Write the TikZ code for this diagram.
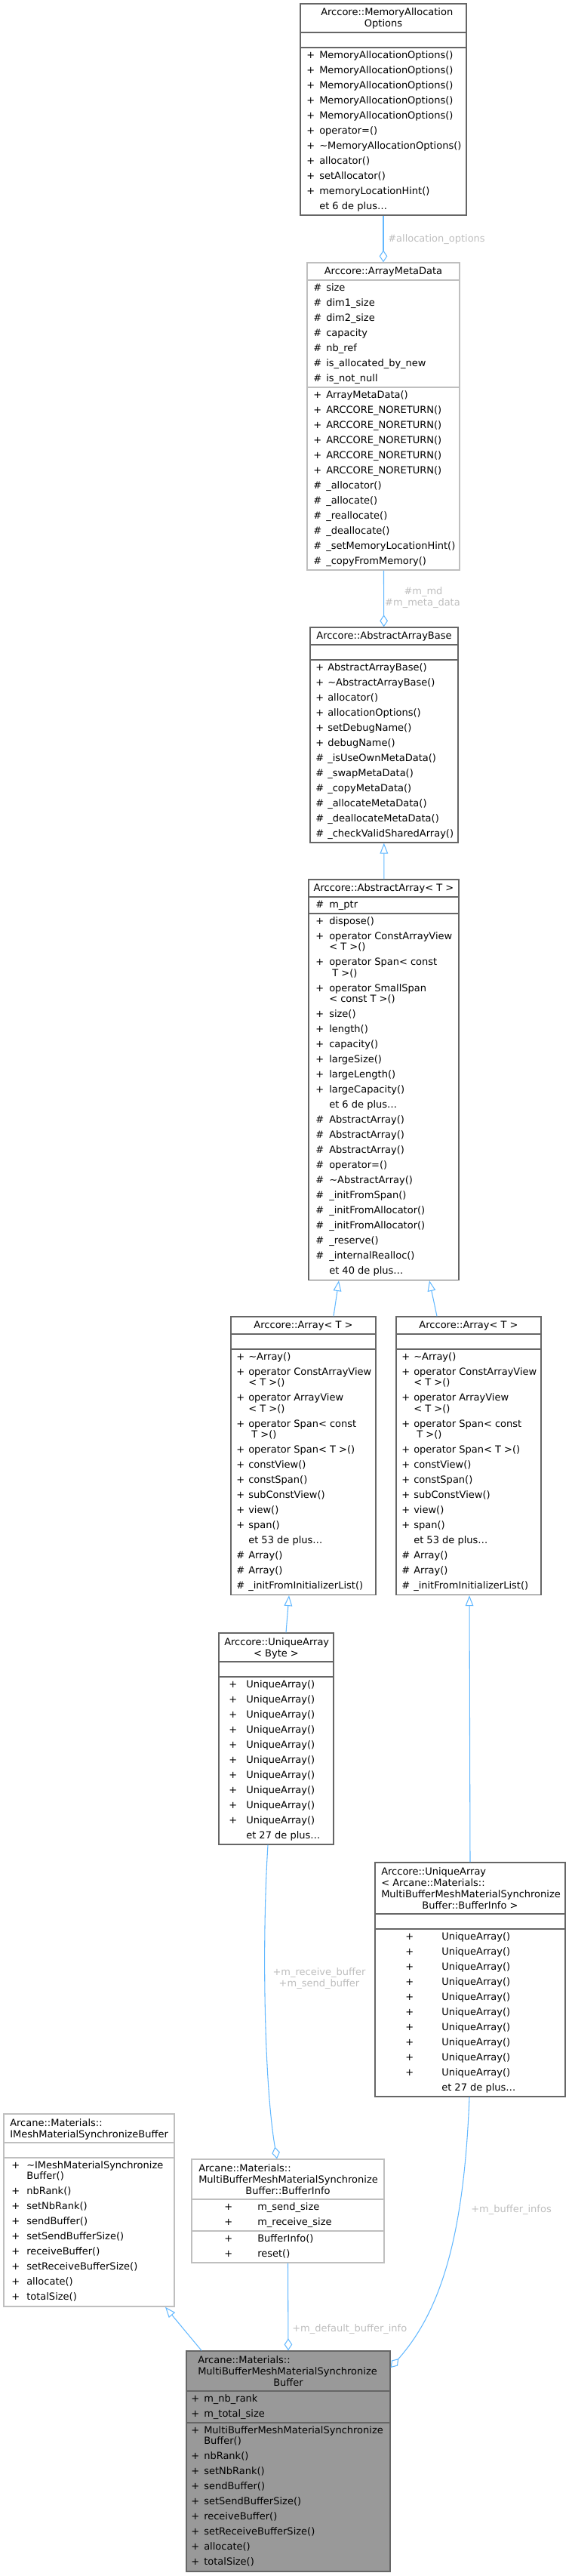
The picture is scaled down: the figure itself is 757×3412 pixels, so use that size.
\documentclass[tikz,border=0pt]{standalone}
\usepackage{fontspec}
\setmainfont{DejaVu Sans}
\usetikzlibrary{arrows.meta,calc,fit}
\definecolor{edgeblue}{HTML}{63B8FF}
\definecolor{labgrey}{HTML}{BEBEBE}
\definecolor{boxdark}{HTML}{666666}
\definecolor{boxlight}{HTML}{BFBFBF}
\definecolor{mainfill}{HTML}{999999}
\newcommand\dgfont{\fontsize{9.75}{11}\selectfont}
\tikzset{
  x=0.75pt,y=-0.75pt,
  cls/.style={draw=boxdark,line width=1pt,inner sep=0pt},
  clsl/.style={draw=boxlight,line width=1pt,inner sep=0pt},
  sepd/.style={draw=boxdark,line width=1pt},
  sepl/.style={draw=boxlight,line width=1pt},
  member/.style={anchor=base west,inner sep=0pt,font=\dgfont},
  ttlc/.style={anchor=base,inner sep=0pt,font=\dgfont},
  elab/.style={anchor=base west,inner sep=0pt,font=\dgfont,text=labgrey},
  inherit/.style={draw=edgeblue,line width=0.8pt,-{Triangle[open,length=10.5pt,width=8pt]}},
  aggr/.style={draw=edgeblue,line width=0.8pt,-{Diamond[open,length=12pt,width=8pt]}},
}
% rows of a class box: prefix, x of symbol, x of name, first baseline, list sym/text/step
\newcommand\members[5]{%
  \foreach \s/\t/\h [count=\i, remember=\ny as \py (initially 0), evaluate=\h as \ny using \py+\h] in #5
    {\node[member] (#1s\i) at (#2,#4+\py) {\s};
     \node[member] (#1n\i) at (#3,#4+\py) {\t};}}
\def\arrayrows{+/\textasciitilde Array()/20, +/operator ConstArrayView/14.5, /< T >()/20,
  +/operator ArrayView/14.5, /< T >()/20, +/operator Span< const/14.5, /\ T >()/20,
  +/operator Span< T >()/20, +/constView()/20, +/constSpan()/20, +/subConstView()/20,
  +/view()/20, +/span()/20, /et 53 de plus\ldots/20, \#/Array()/20, \#/Array()/20,
  \#/\_initFromInitializerList()/20}
\def\uniquerows{+/UniqueArray()/20, +/UniqueArray()/20, +/UniqueArray()/20, +/UniqueArray()/20,
  +/UniqueArray()/20, +/UniqueArray()/20, +/UniqueArray()/20, +/UniqueArray()/20,
  +/UniqueArray()/20, +/UniqueArray()/20, /et 27 de plus\ldots/20}
\def\syncrows{+/nbRank()/20, +/setNbRank()/20, +/sendBuffer()/20, +/setSendBufferSize()/20,
  +/receiveBuffer()/20, +/setReceiveBufferSize()/20, +/allocate()/20, +/totalSize()/20}
\begin{document}
\begin{tikzpicture}
\useasboundingbox (0,0) rectangle (757,3412);

% boxes
\node[cls, fit={(398,5) (618,285)}] (mao) {};
\draw[sepd] (398,43) -- (618,43) (398,63) -- (618,63);
\node[clsl, fit={(407,348) (609,755)}] (amd) {};
\draw[sepl] (407,371) -- (609,371) (407,513) -- (609,513);
\node[cls, fit={(411,831) (607,1116)}] (aab) {};
\draw[sepd] (411,854) -- (607,854) (411,874) -- (607,874);
\node[cls, fit={(409,1165) (608,1695.5)}] (aa) {};
\draw[sepd] (409,1188) -- (608,1188) (409,1210) -- (608,1210);
\node[cls, fit={(306,1744) (498,2112.5)}] (arl) {};
\draw[sepd] (306,1767) -- (498,1767) (306,1787) -- (498,1787);
\node[cls, fit={(525,1744) (717,2112.5)}] (arr) {};
\draw[sepd] (525,1767) -- (717,1767) (525,1787) -- (717,1787);
\node[cls, fit={(290,2163) (442,2443)}] (uab) {};
\draw[sepd] (290,2201) -- (442,2201) (290,2221) -- (442,2221);
\node[cls, fit={(497,2467) (749,2777)}] (uabi) {};
\draw[sepd] (497,2535) -- (749,2535) (497,2555) -- (749,2555);
\node[clsl, fit={(5,2800) (231,3055)}] (ims) {};
\draw[sepl] (5,2838) -- (231,2838) (5,2858) -- (231,2858);
\node[clsl, fit={(254,2860) (509,2997)}] (bi) {};
\draw[sepl] (254,2913) -- (509,2913) (254,2955) -- (509,2955);
\node[cls, fill=mainfill, fit={(247,3114) (517,3406)}] (mb) {};
\draw[sepd] (247,3167) -- (517,3167) (247,3209) -- (517,3209);

% titles
\node[member] (maot1) at (425,21) {Arccore::MemoryAllocation};
\node[ttlc] (maot2) at (508,36) {Options};
\node[ttlc] (amdt) at (508,363) {Arccore::ArrayMetaData};
\node[ttlc] (aabt) at (509,846) {Arccore::AbstractArrayBase};
\node[ttlc] (aat) at (508.5,1180) {Arccore::AbstractArray< T >};
\node[ttlc] (arlt) at (402,1759) {Arccore::Array< T >};
\node[ttlc] (arrt) at (621,1759) {Arccore::Array< T >};
\node[member] (uabt1) at (297,2179) {Arccore::UniqueArray};
\node[ttlc] (uabt2) at (366,2194) {< Byte >};
\node[member] (uabit1) at (505,2483) {Arccore::UniqueArray};
\node[member] (uabit2) at (505,2498) {< Arcane::Materials::};
\node[member] (uabit3) at (505,2513) {MultiBufferMeshMaterialSynchronize};
\node[ttlc] (uabit4) at (623,2528) {Buffer::BufferInfo >};
\node[member] (imst1) at (13,2816) {Arcane::Materials::};
\node[member] (imst2) at (13,2831) {IMeshMaterialSynchronizeBuffer};
\node[member] (bit1) at (263,2876) {Arcane::Materials::};
\node[member] (bit2) at (263,2891) {MultiBufferMeshMaterialSynchronize};
\node[ttlc] (bit3) at (381.5,2906) {Buffer::BufferInfo};
\node[member] (mbt1) at (262,3130) {Arcane::Materials::};
\node[member] (mbt2) at (262,3145) {MultiBufferMeshMaterialSynchronize};
\node[ttlc] (mbt3) at (382,3160) {Buffer};

% members
\members{mao}{406}{423}{77}{{+/MemoryAllocationOptions()/20, +/MemoryAllocationOptions()/20,
  +/MemoryAllocationOptions()/20, +/MemoryAllocationOptions()/20, +/MemoryAllocationOptions()/20,
  +/operator=()/20, +/\textasciitilde MemoryAllocationOptions()/20, +/allocator()/20,
  +/setAllocator()/20, +/memoryLocationHint()/20, /et 6 de plus\ldots/20}}
\members{amda}{415}{432}{385}{{\#/size/20, \#/dim1\_size/20, \#/dim2\_size/20, \#/capacity/20,
  \#/nb\_ref/20, \#/is\_allocated\_by\_new/20, \#/is\_not\_null/20}}
\members{amd}{415}{432}{527}{{+/ArrayMetaData()/20, +/ARCCORE\_NORETURN()/20, +/ARCCORE\_NORETURN()/20,
  +/ARCCORE\_NORETURN()/20, +/ARCCORE\_NORETURN()/20, +/ARCCORE\_NORETURN()/20,
  \#/\_allocator()/20, \#/\_allocate()/20, \#/\_reallocate()/20, \#/\_deallocate()/20,
  \#/\_setMemoryLocationHint()/20, \#/\_copyFromMemory()/20}}
\members{aab}{418}{434}{888}{{+/AbstractArrayBase()/20, +/\textasciitilde AbstractArrayBase()/20,
  +/allocator()/20, +/allocationOptions()/20, +/setDebugName()/20, +/debugName()/20,
  \#/\_isUseOwnMetaData()/20, \#/\_swapMetaData()/20, \#/\_copyMetaData()/20,
  \#/\_allocateMetaData()/20, \#/\_deallocateMetaData()/20, \#/\_checkValidSharedArray()/20}}
\members{aaa}{418}{436}{1202}{{\#/m\_ptr/20}}
\members{aa}{418}{436}{1224}{{+/dispose()/20, +/operator ConstArrayView/14.5, /< T >()/20,
  +/operator Span< const/14.5, /\ T >()/20, +/operator SmallSpan/14.5, /< const T >()/20,
  +/size()/20, +/length()/20, +/capacity()/20, +/largeSize()/20, +/largeLength()/20,
  +/largeCapacity()/20, /et 6 de plus\ldots/20, \#/AbstractArray()/20, \#/AbstractArray()/20,
  \#/AbstractArray()/20, \#/operator=()/20, \#/\textasciitilde AbstractArray()/20,
  \#/\_initFromSpan()/20, \#/\_initFromAllocator()/20, \#/\_initFromAllocator()/20,
  \#/\_reserve()/20, \#/\_internalRealloc()/20, /et 40 de plus\ldots/20}}
\members{arl}{313}{329}{1801}{\arrayrows}
\members{arr}{532}{548}{1801}{\arrayrows}
\members{uab}{303}{326}{2235}{\uniquerows}
\members{uabi}{537}{585}{2569}{\uniquerows}
\members{ims}{15}{35}{2872}{{+/\textasciitilde IMeshMaterialSynchronize/14.5, /Buffer()/20}}
\members{imsb}{15}{35}{2906.5}{\syncrows}
\members{bia}{297}{341}{2927}{{+/m\_send\_size/20, +/m\_receive\_size/20}}
\members{bi}{297}{341}{2969}{{+/BufferInfo()/20, +/reset()/20}}
\members{mba}{253}{270}{3181}{{+/m\_nb\_rank/20, +/m\_total\_size/20}}
\members{mb}{253}{270}{3223}{{+/MultiBufferMeshMaterialSynchronize/14.5, /Buffer()/20}}
\members{mbb}{253}{270}{3257.5}{\syncrows}

% connectors
\draw[aggr] (mao) -- (amd);
\draw[aggr] (amd) -- (aab);
\draw[inherit] (aa) -- (aab);
\draw[inherit] ($(arl.north)+(40,0)$) -- ($(aa.south)+(-59.5,0)$);
\draw[inherit] ($(arr.north)+(-42,0)$) -- ($(aa.south)+(60.5,0)$);
\draw[inherit] ($(uab.north)+(13,0)$) -- ($(arl.south)+(-19,0)$);
\draw[inherit] (uabi.north) -- ($(arr.south)+(1,0)$);
\draw[aggr] ($(uab.south)+(-11,0)$) .. controls (347,2570) and (350,2760) .. ($(bi.north)+(-14.5,0)$);
\draw[aggr] (bi.south) -- (mb.north);
\draw[aggr] ($(uabi.south)+(-1,0)$) .. controls (615,2960) and (585,3060) .. ($(mb.east)+(0,-124)$);
\draw[inherit] ($(mb.north)+(-115,0)$) -- ($(ims.south)+(101,0)$);

% edge labels
\node[elab] (l1) at (514,320) {\#allocation\_options};
\node[elab, anchor=base] (l2) at (561,787) {\#m\_md};
\node[elab, anchor=base] (l3) at (560,802) {\#m\_meta\_data};
\node[elab, anchor=base] (l4) at (423,2616) {+m\_receive\_buffer};
\node[elab, anchor=base] (l5) at (423,2631) {+m\_send\_buffer};
\node[elab] (l6) at (387,3088) {+m\_default\_buffer\_info};
\node[elab] (l7) at (624,2930) {+m\_buffer\_infos};
\end{tikzpicture}
\end{document}
